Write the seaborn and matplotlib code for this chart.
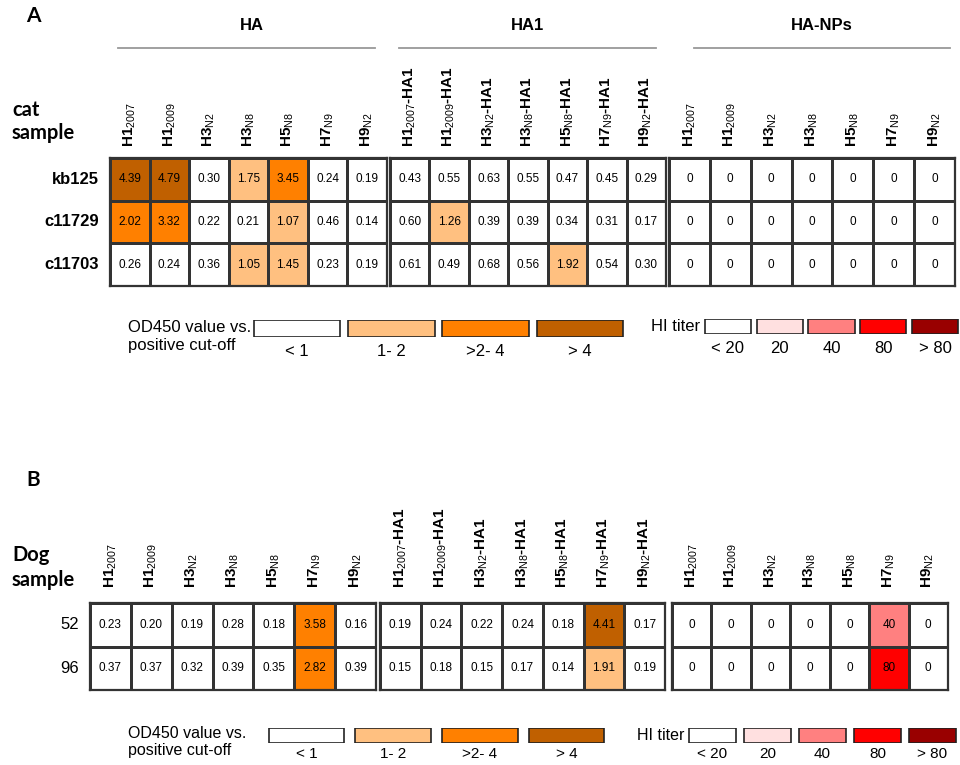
import matplotlib
matplotlib.use("Agg")
import matplotlib.pyplot as plt
import seaborn as sns
import numpy as np
from matplotlib.colors import ListedColormap
from matplotlib.lines import Line2D
from matplotlib import font_manager

# ---- data ----
antigens = [("H1", "2007"), ("H1", "2009"), ("H3", "N2"), ("H3", "N8"),
            ("H5", "N8"), ("H7", "N9"), ("H9", "N2")]

cat_samples = ["kb125", "c11729", "c11703"]
cat_ha = [[4.39, 4.79, 0.30, 1.75, 3.45, 0.24, 0.19],
          [2.02, 3.32, 0.22, 0.21, 1.07, 0.46, 0.14],
          [0.26, 0.24, 0.36, 1.05, 1.45, 0.23, 0.19]]
cat_ha1 = [[0.43, 0.55, 0.63, 0.55, 0.47, 0.45, 0.29],
           [0.60, 1.26, 0.39, 0.39, 0.34, 0.31, 0.17],
           [0.61, 0.49, 0.68, 0.56, 1.92, 0.54, 0.30]]
cat_hi = [[0, 0, 0, 0, 0, 0, 0],
          [0, 0, 0, 0, 0, 0, 0],
          [0, 0, 0, 0, 0, 0, 0]]

dog_samples = ["52", "96"]
dog_ha = [[0.23, 0.20, 0.19, 0.28, 0.18, 3.58, 0.16],
          [0.37, 0.37, 0.32, 0.39, 0.35, 2.82, 0.39]]
dog_ha1 = [[0.19, 0.24, 0.22, 0.24, 0.18, 4.41, 0.17],
           [0.15, 0.18, 0.15, 0.17, 0.14, 1.91, 0.19]]
dog_hi = [[0, 0, 0, 0, 0, 40, 0],
          [0, 0, 0, 0, 0, 80, 0]]

od_bins = [1, 2, 4]
od_colors = ["#FFFFFF", "#FFC080", "#FF8000", "#C06000"]
od_labels = ["< 1", "1- 2", ">2- 4", "> 4"]
hi_bins = [20, 40, 80, 81]
hi_colors = ["#FFFFFF", "#FFE0E0", "#FF8080", "#FF0000", "#990000"]
hi_labels = ["< 20", "20", "40", "80", "> 80"]

# ---- fonts ----
installed = {f.name for f in font_manager.fontManager.ttflist}
NARROW = "Liberation Sans Narrow" if "Liberation Sans Narrow" in installed else "Liberation Sans"
plt.rcParams["font.family"] = "Liberation Sans"
plt.rcParams["mathtext.fontset"] = "custom"
plt.rcParams["mathtext.rm"] = "Liberation Sans"
plt.rcParams["mathtext.bf"] = "Liberation Sans:bold"
plt.rcParams["mathtext.it"] = "Liberation Sans:italic"

ha_cols = [rf"$\mathbf{{{m}}}_{{\mathrm{{{s}}}}}$" for m, s in antigens]
ha1_cols = [rf"$\mathbf{{{m}}}_{{\mathrm{{{s}}}}}\mathbf{{‐HA1}}$" for m, s in antigens]

W, H = 960, 765


def box(x0, y0, x1, y1):
    # pixel box (top-left origin) -> figure fraction rect
    return [x0 / W, 1 - y1 / H, (x1 - x0) / W, (y1 - y0) / H]


def draw_block(fig, rect, values, bins, colors, fmt, cols, rows=None,
               label_pad=8, cell_font="Liberation Sans", row_kw=None):
    ax = fig.add_axes(box(*rect))
    vals = np.array(values)
    codes = np.digitize(vals, bins)
    sns.heatmap(codes, ax=ax, cmap=ListedColormap(colors),
                vmin=-0.5, vmax=len(colors) - 0.5,
                annot=vals, fmt=fmt,
                annot_kws=dict(size=8.5, color="black", family=cell_font),
                linewidths=1.0, linecolor="#333333", cbar=False,
                xticklabels=cols, yticklabels=rows if rows else False)
    for s in ax.spines.values():
        s.set_visible(True)
        s.set_linewidth(1.6)
        s.set_color("#333333")
    ax.xaxis.tick_top()
    ax.tick_params(axis="x", length=0, pad=label_pad, labelsize=11, labelrotation=90)
    if rows:
        ax.tick_params(axis="y", length=0, pad=8, labelrotation=0)
        for t in ax.get_yticklabels():
            t.update(row_kw)
    return ax


def draw_legend(fig, rect, colors, labels, width, font, size=12, pad=5):
    ax = fig.add_axes(box(*rect))
    n = len(colors)
    ax.bar(range(n), [1] * n, width=width, color=colors,
           edgecolor="#222222", linewidth=1.2)
    ax.set_xlim(-0.5, n - 0.5)
    ax.set_ylim(0, 1)
    for s in ax.spines.values():
        s.set_visible(False)
    ax.set_yticks([])
    ax.set_xticks(range(n))
    ax.set_xticklabels(labels, fontsize=size, family=font)
    ax.tick_params(axis="x", length=0, pad=pad)
    return ax


fig = plt.figure(figsize=(9.6, 7.65), dpi=100)

# ---------------- panel A ----------------
fig.text(26 / W, 1 - 16 / H, "A", fontsize=15, fontweight="bold", family="Lato", va="center")
row_a = dict(fontweight="bold", fontsize=12)
draw_block(fig, (110, 158, 387, 286), cat_ha, od_bins, od_colors, ".2f", ha_cols,
           cat_samples, label_pad=8, row_kw=row_a)
draw_block(fig, (390, 158, 666, 286), cat_ha1, od_bins, od_colors, ".2f", ha1_cols,
           label_pad=8)
draw_block(fig, (669, 158, 955, 286), cat_hi, hi_bins, hi_colors, "d", ha_cols,
           label_pad=8)

fig.text(12 / W, 1 - 110 / H, "cat", fontsize=14.5, fontweight="bold", family="Lato", va="center")
fig.text(12 / W, 1 - 133 / H, "sample", fontsize=14.5, fontweight="bold", family="Lato", va="center")

for name, xc, x0, x1 in [("HA", 252, 118, 375), ("HA1", 527, 399, 656),
                         ("HA-NPs", 822, 694, 950)]:
    fig.text(xc / W, 1 - 26 / H, name, fontsize=12, fontweight="bold", ha="center", va="center")
    fig.add_artist(Line2D([x0 / W, x1 / W], [1 - 48 / H, 1 - 48 / H], color="#999999", lw=1.3))

draw_legend(fig, (250, 320, 627, 337), od_colors, od_labels, 0.92, NARROW)
draw_legend(fig, (702, 319, 961, 334), hi_colors, hi_labels, 0.89, NARROW)
fig.text(128 / W, 1 - 328 / H, "OD450 value vs.", fontsize=12, family=NARROW, va="center")
fig.text(128 / W, 1 - 346 / H, "positive cut-off", fontsize=12, family=NARROW, va="center")
fig.text(700 / W, 1 - 326 / H, "HI titer", fontsize=12, family=NARROW, va="center", ha="right")

# ---------------- panel B ----------------
fig.text(26 / W, 1 - 480 / H, "B", fontsize=15, fontweight="bold", family="Lato", va="center")
row_b = dict(fontsize=12, family=NARROW)
draw_block(fig, (90, 603, 376, 690), dog_ha, od_bins, od_colors, ".2f", ha_cols,
           dog_samples, label_pad=11, cell_font=NARROW, row_kw=row_b)
draw_block(fig, (380, 603, 665, 690), dog_ha1, od_bins, od_colors, ".2f", ha1_cols,
           label_pad=11, cell_font=NARROW)
draw_block(fig, (672, 603, 948, 690), dog_hi, hi_bins, hi_colors, "d", ha_cols,
           label_pad=11)

fig.text(12 / W, 1 - 555 / H, "Dog", fontsize=14.5, fontweight="bold", family="Lato", va="center")
fig.text(12 / W, 1 - 580 / H, "sample", fontsize=14.5, fontweight="bold", family="Lato", va="center")

draw_legend(fig, (263, 728, 610, 743), od_colors, od_labels, 0.87, NARROW, size=11, pad=3)
draw_legend(fig, (685, 728, 960, 743), hi_colors, hi_labels, 0.85, NARROW, size=11, pad=3)
fig.text(128 / W, 1 - 734 / H, "OD450 value vs.", fontsize=11.5, family=NARROW, va="center")
fig.text(128 / W, 1 - 750 / H, "positive cut-off", fontsize=11.5, family=NARROW, va="center")
fig.text(684 / W, 1 - 736 / H, "HI titer", fontsize=11.5, family=NARROW, va="center", ha="right")

fig.savefig("out.png", dpi=100)
